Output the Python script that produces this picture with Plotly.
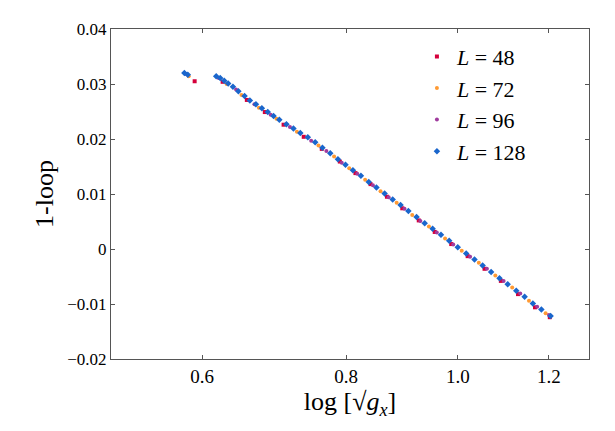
import plotly.graph_objects as go

# L = 128 (blue diamonds)
x128 = [0.579, 0.583, 0.617, 0.622, 0.627, 0.632, 0.638, 0.645, 0.653, 0.660, 0.668,
        0.676, 0.684, 0.692, 0.700, 0.710, 0.720, 0.730, 0.741, 0.752, 0.763, 0.775,
        0.787, 0.799, 0.811, 0.824, 0.837, 0.850, 0.864, 0.878, 0.892, 0.906, 0.921,
        0.936, 0.951, 0.967, 0.983, 1.000, 1.017, 1.034, 1.051, 1.069, 1.087, 1.105,
        1.124, 1.143, 1.162, 1.182, 1.204]
y128 = [0.0320, 0.0317, 0.0314, 0.0311, 0.0306, 0.0301, 0.0295, 0.0287, 0.0278, 0.0270,
        0.0263, 0.0256, 0.0249, 0.0242, 0.0235, 0.0227, 0.0219, 0.0211, 0.0203, 0.0194,
        0.0184, 0.0174, 0.0163, 0.0153, 0.0143, 0.0133, 0.0122, 0.0112, 0.0101, 0.0090,
        0.0080, 0.0069, 0.0058, 0.0047, 0.0037, 0.0026, 0.0015, 0.0003, -0.0008, -0.0019,
        -0.0030, -0.0042, -0.0053, -0.0064, -0.0076, -0.0087, -0.0099, -0.0110, -0.0122]

# L = 96 (purple)
x96 = [0.581, 0.620, 0.642, 0.666, 0.688, 0.715, 0.746, 0.769, 0.793, 0.818, 0.844,
       0.871, 0.899, 0.928, 0.959, 0.991, 1.025, 1.060, 1.096, 1.133, 1.172, 1.200]
y96 = [0.0318, 0.0311, 0.0290, 0.0263, 0.0244, 0.0222, 0.0197, 0.0178, 0.0157, 0.0137,
       0.0116, 0.0094, 0.0073, 0.0051, 0.0030, 0.0008, -0.0014, -0.0036, -0.0058,
       -0.0081, -0.0105, -0.0120]

# L = 72 (orange)
x72 = [0.584, 0.630, 0.649, 0.672, 0.696, 0.725, 0.757, 0.781, 0.805, 0.831, 0.857,
       0.885, 0.913, 0.944, 0.975, 1.008, 1.043, 1.078, 1.115, 1.153, 1.192]
y72 = [0.0314, 0.0300, 0.0280, 0.0257, 0.0237, 0.0213, 0.0188, 0.0168, 0.0147, 0.0126,
       0.0105, 0.0084, 0.0062, 0.0041, 0.0019, -0.0003, -0.0025, -0.0048, -0.0070,
       -0.0094, -0.0117]

# L = 48 (red squares)
x48 = [0.591, 0.625, 0.656, 0.680, 0.706, 0.735, 0.762, 0.790, 0.815, 0.840, 0.868,
       0.895, 0.925, 0.955, 0.987, 1.020, 1.055, 1.090, 1.128, 1.167, 1.202]
y48 = [0.0305, 0.0304, 0.0271, 0.0249, 0.0226, 0.0204, 0.0182, 0.0159, 0.0138, 0.0118,
       0.0095, 0.0074, 0.0052, 0.0031, 0.0009, -0.0013, -0.0036, -0.0058, -0.0082,
       -0.0106, -0.0124]

font_name = "Liberation Serif"

fig = go.Figure()
fig.add_trace(go.Scatter(x=x48, y=y48, mode="markers", name="<i>L</i> = 48",
                         marker=dict(symbol="square", size=4, color="#d5003b")))
fig.add_trace(go.Scatter(x=x72, y=y72, mode="markers", name="<i>L</i> = 72",
                         marker=dict(symbol="circle", size=4, color="#ff9a33")))
fig.add_trace(go.Scatter(x=x96, y=y96, mode="markers", name="<i>L</i> = 96",
                         marker=dict(symbol="circle", size=4, color="#a03c9e")))
fig.add_trace(go.Scatter(x=x128, y=y128, mode="markers", name="<i>L</i> = 128",
                         marker=dict(symbol="diamond", size=5, color="#1a66cc")))

axis_style = dict(showline=True, linecolor="#555", linewidth=1, mirror="ticks",
                  ticks="inside", ticklen=4, tickcolor="#555", showgrid=False,
                  zeroline=False)

fig.update_xaxes(type="log", range=[-0.30103, 0.11394],
                 tickvals=[0.6, 0.8, 1.0, 1.2], ticktext=["0.6", "0.8", "1.0", "1.2"],
                 tickfont=dict(size=19, color="black", family=font_name),
                 title=dict(text="log [√<i>g<sub>x</sub></i>]", font=dict(size=26), standoff=6),
                 **axis_style)
fig.update_yaxes(range=[-0.02, 0.04],
                 tickvals=[-0.02, -0.01, 0, 0.01, 0.02, 0.03, 0.04],
                 ticktext=["−0.02", "−0.01", "0", "0.01", "0.02", "0.03", "0.04"],
                 tickfont=dict(size=17, color="black", family=font_name),
                 title=dict(text="1-loop", font=dict(size=26), standoff=6),
                 **axis_style)

fig.update_layout(
    width=615, height=431,
    margin=dict(l=103, r=34, t=19, b=80),
    plot_bgcolor="white", paper_bgcolor="white",
    font=dict(family=font_name, color="black"),
    legend=dict(x=0.64, y=0.98, xanchor="left", yanchor="top",
                font=dict(size=22), bgcolor="rgba(0,0,0,0)", itemwidth=30),
)

fig.write_html("out.html")
